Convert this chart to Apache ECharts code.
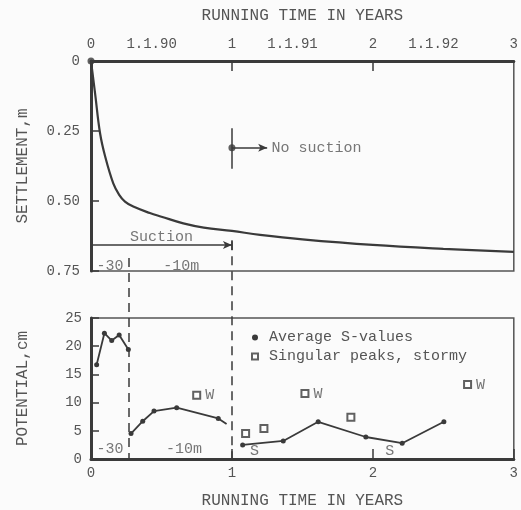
<!DOCTYPE html>
<html>
<head>
<meta charset="utf-8">
<script src="https://cdn.jsdelivr.net/npm/echarts@6/dist/echarts.min.js"></script>
<style>
html,body{margin:0;padding:0;background:#fbfbfb;}
#c{width:521px;height:510px;}
</style>
</head>
<body>
<div id="c"></div>
<script>
// ---- data ----
const settleT = [0, 0.01, 0.03, 0.064, 0.1, 0.158, 0.2, 0.241, 0.3, 0.418, 0.5, 0.655, 0.8, 1.0, 1.2, 1.5, 2.0, 2.5, 3.0];
const settleV = [0, 0.04, 0.12, 0.257, 0.34, 0.437, 0.478, 0.502, 0.52, 0.543, 0.556, 0.58, 0.595, 0.607, 0.621, 0.637, 0.657, 0.671, 0.682];

const avgSuction30T = [0.04, 0.095, 0.147, 0.2, 0.265];
const avgSuction30V = [16.7, 22.3, 21.0, 22.0, 19.4];
const avgSuction10T = [0.284, 0.367, 0.447, 0.608, 0.903, 0.962];
const avgSuction10V = [4.5, 6.7, 8.5, 9.1, 7.2, 6.2];
const avgNoSuctionT = [1.076, 1.364, 1.612, 1.95, 2.208, 2.504];
const avgNoSuctionV = [2.5, 3.2, 6.6, 3.9, 2.8, 6.6];

const peakT = [0.75, 1.097, 1.227, 1.518, 1.844, 2.672];
const peakV = [11.3, 4.5, 5.4, 11.6, 7.4, 13.2];
const peakTag = ['W', '', '', 'W', '', 'W'];

const topTickVals = [0, 0.43, 1, 1.43, 2, 2.43, 3];
const topTickLabels = ['0', '1.1.90', '1', '1.1.91', '2', '1.1.92', '3'];

const FONT = 'Liberation Mono';
const INK = '#3a3a3a';
const TXT = '#555';

function pairs(t, v) { return t.map((x, i) => [x, v[i]]); }

function noteSeries(xi, yi, notes) {
  return {
    type: 'scatter', xAxisIndex: xi, yAxisIndex: yi, symbolSize: 1, silent: true,
    itemStyle: { color: 'transparent' },
    data: notes.map(n => ({
      value: [n[1], n[2]],
      label: { show: true, formatter: n[0], position: 'inside', align: n[3] || 'center',
               verticalAlign: 'middle', color: TXT, fontFamily: FONT, fontSize: 15 }
    }))
  };
}

const chart = echarts.init(document.getElementById('c'), null, { renderer: 'canvas' });

const axisNameStyle = { color: TXT, fontFamily: FONT, fontSize: 16 };
const axisLabelStyle = { color: TXT, fontFamily: FONT, fontSize: 14 };

const avgLineStyle = {
  type: 'line', xAxisIndex: 1, yAxisIndex: 1, name: 'Average S-values',
  symbol: 'circle', symbolSize: 5, color: INK,
  lineStyle: { color: INK, width: 1.8 }, itemStyle: { color: INK }
};

const option = {
  backgroundColor: '#fbfbfb',
  animation: false,
  grid: [
    { left: 91, top: 61, width: 423, height: 210, show: true, borderColor: '#555', borderWidth: 1.5 },
    { left: 91, top: 318, width: 423, height: 142, show: true, borderColor: '#555', borderWidth: 1.5 },
    { left: 91, top: 61, width: 423, height: 399, show: false }
  ],
  legend: {
    left: 246, top: 324, orient: 'vertical', itemGap: 2, itemWidth: 6, itemHeight: 6,
    textStyle: { color: TXT, fontFamily: FONT, fontSize: 15, lineHeight: 17, padding: [0, 0, 0, 6] },
    data: [
      { name: 'Average S-values', icon: 'circle' },
      { name: 'Singular peaks, stormy', icon: 'emptyRect' }
    ]
  },
  xAxis: [
    {
      gridIndex: 0, type: 'value', position: 'top', min: 0, max: 3,
      name: 'RUNNING TIME IN YEARS', nameLocation: 'middle', nameGap: 37, nameTextStyle: axisNameStyle,
      axisLine: { lineStyle: { color: INK, width: 3 } },
      axisTick: { show: true, inside: true, length: 10, customValues: [1, 2], lineStyle: { color: INK, width: 1.5 } },
      axisLabel: {
        ...axisLabelStyle, margin: 10, customValues: topTickVals,
        formatter: v => {
          let best = 0;
          topTickVals.forEach((t, i) => { if (Math.abs(t - v) < Math.abs(topTickVals[best] - v)) best = i; });
          return topTickLabels[best];
        }
      },
      splitLine: { show: false }
    },
    {
      gridIndex: 1, type: 'value', position: 'bottom', min: 0, max: 3, interval: 1,
      name: 'RUNNING TIME IN YEARS', nameLocation: 'middle', nameGap: 34, nameTextStyle: axisNameStyle,
      axisLine: { lineStyle: { color: INK, width: 3 } },
      axisTick: { show: true, inside: true, length: 10, lineStyle: { color: INK, width: 1.5 } },
      axisLabel: { ...axisLabelStyle, margin: 7 },
      splitLine: { show: false }
    },
    { gridIndex: 2, type: 'value', min: 0, max: 3, show: false }
  ],
  yAxis: [
    {
      gridIndex: 0, type: 'value', inverse: true, min: 0, max: 0.75, interval: 0.25,
      name: 'SETTLEMENT,m', nameLocation: 'middle', nameGap: 60, nameTextStyle: axisNameStyle,
      axisLine: { lineStyle: { color: INK, width: 3 } },
      axisTick: { show: true, inside: true, length: 8, lineStyle: { color: INK, width: 1.5 } },
      axisLabel: { ...axisLabelStyle, margin: 11, formatter: v => v === 0 ? '0' : v.toFixed(2) },
      splitLine: { show: false }
    },
    {
      gridIndex: 1, type: 'value', min: 0, max: 25, interval: 5,
      name: 'POTENTIAL,cm', nameLocation: 'middle', nameGap: 60, nameTextStyle: axisNameStyle,
      axisLine: { lineStyle: { color: INK, width: 3 } },
      axisTick: { show: true, inside: true, length: 8, lineStyle: { color: INK, width: 1.5 } },
      axisLabel: { ...axisLabelStyle, margin: 9 },
      splitLine: { show: false }
    },
    { gridIndex: 2, type: 'value', min: 0, max: 1, show: false }
  ],
  series: [
    // settlement curve
    {
      type: 'line', xAxisIndex: 0, yAxisIndex: 0, data: pairs(settleT, settleV),
      smooth: 0.4, symbol: 'none', silent: true,
      lineStyle: { color: INK, width: 2.2 }
    },
    // start dot + no-suction dot
    {
      type: 'scatter', xAxisIndex: 0, yAxisIndex: 0, symbolSize: 7, silent: true,
      itemStyle: { color: INK }, data: [[0, 0], [1, 0.31]]
    },
    // annotation lines in upper panel
    {
      type: 'line', xAxisIndex: 0, yAxisIndex: 0, data: [], silent: true,
      markLine: {
        silent: true, animation: false, label: { show: false },
        lineStyle: { color: INK, width: 1.5, type: 'solid' },
        data: [
          [{ coord: [1, 0.24], symbol: 'none' }, { coord: [1, 0.385], symbol: 'none' }],
          [{ coord: [1, 0.31], symbol: 'none' }, { coord: [1.25, 0.31], symbol: 'arrow', symbolSize: [6, 9] }],
          [{ coord: [0, 0.657], symbol: 'none' }, { coord: [1, 0.657], symbol: 'arrow', symbolSize: [6, 9] }],
          [{ coord: [1, 0.64], symbol: 'none' }, { coord: [1, 0.675], symbol: 'none' }]
        ]
      }
    },
    noteSeries(0, 0, [
      ['No suction', 1.28, 0.31, 'left'],
      ['Suction', 0.5, 0.628],
      ['-30', 0.135, 0.733],
      ['-10m', 0.64, 0.733]
    ]),
    // lower panel
    { ...avgLineStyle, data: pairs(avgSuction30T, avgSuction30V) },
    {
      ...avgLineStyle,
      data: pairs(avgSuction10T, avgSuction10V).map((p, i, a) => i === a.length - 1 ? { value: p, symbol: 'none' } : p)
    },
    { ...avgLineStyle, data: pairs(avgNoSuctionT, avgNoSuctionV) },
    {
      type: 'scatter', xAxisIndex: 1, yAxisIndex: 1, name: 'Singular peaks, stormy',
      symbol: 'emptyRect', symbolSize: 7, color: INK,
      itemStyle: { color: INK, borderColor: INK, borderWidth: 1.2 },
      data: peakT.map((t, i) => ({
        value: [t, peakV[i]],
        label: { show: !!peakTag[i], formatter: peakTag[i], position: 'right', distance: 4,
                 color: TXT, fontFamily: FONT, fontSize: 15 }
      }))
    },
    noteSeries(1, 1, [
      ['-30', 0.135, 1.8],
      ['-10m', 0.66, 1.8],
      ['S', 1.16, 1.4],
      ['S', 2.12, 1.4]
    ]),
    // dashed separators spanning both panels
    {
      type: 'line', xAxisIndex: 2, yAxisIndex: 2, data: [], silent: true,
      markLine: {
        silent: true, animation: false, symbol: 'none', label: { show: false },
        lineStyle: { color: INK, width: 1.5, type: [9, 6] },
        data: [
          [{ coord: [0.265, 0.506] }, { coord: [0.265, 0] }],
          [{ coord: [1, 0.548] }, { coord: [1, 0] }]
        ]
      }
    }
  ]
};
chart.setOption(option);
</script>
</body>
</html>
